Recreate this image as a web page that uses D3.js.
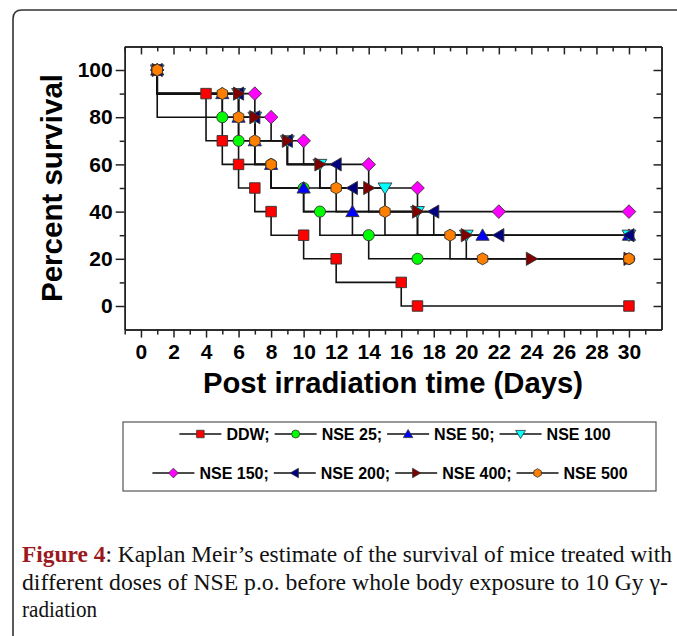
<!DOCTYPE html>
<html><head><meta charset="utf-8">
<script src="https://cdn.jsdelivr.net/npm/d3@7"></script>
<style>body{margin:0;background:#fff} svg{display:block}</style>
</head><body>
<svg id="c" width="677" height="636"></svg>
<script>
// ---------------- data ----------------
const seriesNames  = ["DDW","NSE 25","NSE 50","NSE 100","NSE 150","NSE 200","NSE 400","NSE 500"];
const legendLabels = ["DDW;","NSE 25;","NSE 50;","NSE 100","NSE 150;","NSE 200;","NSE 400;","NSE 500"];
const seriesColors = ["#ff0000","#00ff00","#0000ff","#00ffff","#ff00ff","#000080","#800000","#ff8000"];
const seriesShapes = ["square","circle","triangleUp","triangleDown","diamond","triangleLeft","triangleRight","hexagon"];

const ddwDays    = [1,4,5,6,7,8,10,12,16,17,30];
const ddwSurv    = [100,90,70,60,50,40,30,20,10,0,0];
const nse25Days  = [1,5,6,8,10,11,14,17,30];
const nse25Surv  = [100,80,70,60,50,40,30,20,20];
const nse50Days  = [1,5,6,7,8,10,13,21,30];
const nse50Surv  = [100,90,80,70,60,50,40,30,30];
const nse100Days = [1,6,7,9,11,15,17,20,30];
const nse100Surv = [100,90,80,70,60,50,40,30,30];
const nse150Days = [1,7,8,10,14,17,22,30];
const nse150Surv = [100,90,80,70,60,50,40,40];
const nse200Days = [1,6,7,9,12,13,18,22,30];
const nse200Surv = [100,90,80,70,60,50,40,30,30];
const nse400Days = [1,6,7,9,11,14,17,20,24,30];
const nse400Surv = [100,90,80,70,60,50,40,30,20,20];
const nse500Days = [1,5,6,7,8,12,15,19,21,30];
const nse500Surv = [100,90,80,70,60,50,40,30,20,20];

const xMajorTicks = [0,2,4,6,8,10,12,14,16,18,20,22,24,26,28,30];
const xMinorTicks = [-1,1,3,5,7,9,11,13,15,17,19,21,23,25,27,29,31];
const yMajorTicks = [0,20,40,60,80,100];
const yMinorTicks = [10,30,50,70,90];

const xTitle = "Post irradiation time (Days)";
const yTitle = "Percent survival";
const captionBold = "Figure 4";
const captionLines = [": Kaplan Meir\u2019s estimate of the survival of mice treated with",
  "different doses of NSE p.o. before whole body exposure to 10 Gy \u03b3-",
  "radiation"];

const allDays = [ddwDays,nse25Days,nse50Days,nse100Days,nse150Days,nse200Days,nse400Days,nse500Days];
const allSurv = [ddwSurv,nse25Surv,nse50Surv,nse100Surv,nse150Surv,nse200Surv,nse400Surv,nse500Surv];
const series = seriesNames.map((n,i)=>({name:n, label:legendLabels[i], color:seriesColors[i], shape:seriesShapes[i],
  pts: allDays[i].map((d,j)=>({day:d, surv:allSurv[i][j]}))}));

// ---------------- layout ----------------
const svg = d3.select("#c");
const FONT = "'Liberation Sans', Arial, Helvetica, sans-serif";
const SERIF = "'Liberation Serif', 'Times New Roman', serif";
const L = 124.7, R = 661.5, T = 46.4, B = 329.6;
const x = d3.scaleLinear().domain([-1,32]).range([L,R]);
const y = d3.scaleLinear().domain([-10,110]).range([B,T]);

// outer frame
svg.append("path").attr("d","M13,640 V19 Q13,10 22,10 H690")
  .attr("fill","none").attr("stroke","#333").attr("stroke-width",1.6);

function shapePath(type, s){
  const h = s/2;
  switch(type){
    case "square": return `M${-h},${-h}H${h}V${h}H${-h}Z`;
    case "circle": { const r=h*1.06; return `M${r},0A${r},${r} 0 1,1 ${-r},0A${r},${r} 0 1,1 ${r},0Z`; }
    case "diamond": { const d=h*1.3; return `M0,${-d}L${d},0L0,${d}L${-d},0Z`; }
    case "triangleUp": { const a=h*1.2; return `M0,${-a}L${a*1.05},${a*0.8}L${-a*1.05},${a*0.8}Z`; }
    case "triangleDown": { const a=h*1.2; return `M0,${a}L${a*1.1},${-a*0.8}L${-a*1.1},${-a*0.8}Z`; }
    case "triangleLeft": { const a=h*1.2; return `M${-a},0L${a*0.8},${-a*1.05}L${a*0.8},${a*1.05}Z`; }
    case "triangleRight": { const a=h*1.2; return `M${a},0L${-a*0.8},${-a*1.05}L${-a*0.8},${a*1.05}Z`; }
    case "hexagon": { const r=h*1.15; let p=[]; for(let k=0;k<6;k++){const an=-Math.PI/2+k*Math.PI/3; p.push([r*Math.cos(an), r*Math.sin(an)]);} return "M"+p.map(q=>q[0].toFixed(2)+","+q[1].toFixed(2)).join("L")+"Z"; }
  }
}

// axes
const axG = svg.append("g");
function styleAxis(g){
  g.selectAll("path.domain").attr("stroke","#222").attr("stroke-width",1.5);
  g.selectAll(".tick line").attr("stroke","#222").attr("stroke-width",1.5);
  g.selectAll("text").attr("font-family",FONT).attr("font-weight","bold").attr("font-size",21).attr("fill","#000");
}
const bottomMaj = axG.append("g").attr("transform",`translate(0,${B})`)
  .call(d3.axisBottom(x).tickValues(xMajorTicks).tickSize(8).tickSizeOuter(0).tickPadding(6).tickFormat(d3.format("d")));
styleAxis(bottomMaj);
const bottomMin = axG.append("g").attr("transform",`translate(0,${B})`)
  .call(d3.axisBottom(x).tickValues(xMinorTicks).tickSize(5).tickSizeOuter(0).tickFormat(""));
styleAxis(bottomMin);
const topMaj = axG.append("g").attr("transform",`translate(0,${T})`)
  .call(d3.axisTop(x).tickValues(xMajorTicks).tickSize(-8).tickSizeOuter(0).tickFormat(""));
styleAxis(topMaj);
const topMin = axG.append("g").attr("transform",`translate(0,${T})`)
  .call(d3.axisTop(x).tickValues(xMinorTicks).tickSize(-5).tickSizeOuter(0).tickFormat(""));
styleAxis(topMin);
const leftMaj = axG.append("g").attr("transform",`translate(${L},0)`)
  .call(d3.axisLeft(y).tickValues(yMajorTicks).tickSize(9).tickSizeOuter(0).tickPadding(3).tickFormat(d3.format("d")));
styleAxis(leftMaj);
const leftMin = axG.append("g").attr("transform",`translate(${L},0)`)
  .call(d3.axisLeft(y).tickValues(yMinorTicks).tickSize(5).tickSizeOuter(0).tickFormat(""));
styleAxis(leftMin);
const rightMaj = axG.append("g").attr("transform",`translate(${R},0)`)
  .call(d3.axisRight(y).tickValues(yMajorTicks).tickSize(-8).tickSizeOuter(0).tickFormat(""));
styleAxis(rightMaj);
const rightMin = axG.append("g").attr("transform",`translate(${R},0)`)
  .call(d3.axisRight(y).tickValues(yMinorTicks).tickSize(-5).tickSizeOuter(0).tickFormat(""));
styleAxis(rightMin);

// axis titles
svg.append("text").attr("x",(x(0)+x(30))/2 + 8).attr("y",393).attr("text-anchor","middle")
  .attr("font-family",FONT).attr("font-weight","bold").attr("font-size",29)
  .attr("textLength",380).attr("lengthAdjust","spacingAndGlyphs").text(xTitle);
svg.append("text").attr("transform",`translate(62,${(y(0)+y(100))/2 + 0}) rotate(-90)`).attr("text-anchor","middle")
  .attr("font-family",FONT).attr("font-weight","bold").attr("font-size",29)
  .attr("textLength",228).attr("lengthAdjust","spacingAndGlyphs").text(yTitle);

// KM step lines
const line = d3.line().x(d=>x(d.day)).y(d=>y(d.surv)).curve(d3.curveStepBefore);
const plot = svg.append("g");
series.forEach(s=>{
  plot.append("path").attr("d",line(s.pts)).attr("fill","none").attr("stroke","#111").attr("stroke-width",1.6);
});
series.forEach(s=>{
  plot.append("g").selectAll("path").data(s.pts).join("path")
    .attr("transform",d=>`translate(${x(d.day)},${y(d.surv)})`)
    .attr("d",shapePath(s.shape,10.5))
    .attr("fill",s.color).attr("stroke","#333").attr("stroke-width",0.9);
});

// legend
const lg = svg.append("g");
lg.append("rect").attr("x",123).attr("y",422).attr("width",533).attr("height",69)
  .attr("fill","none").attr("stroke","#555").attr("stroke-width",1.2);
const rows = [series.slice(0,4), series.slice(4,8)];
const rowY = [434, 473];
const rowCx = [395, 390];
rows.forEach((items,ri)=>{
  const g = lg.append("g");
  let cx = 0;
  items.forEach(s=>{
    const it = g.append("g").attr("transform",`translate(${cx},0)`);
    it.append("line").attr("x1",0).attr("x2",42).attr("y1",0).attr("y2",0).attr("stroke","#111").attr("stroke-width",1.5);
    it.append("path").attr("transform","translate(21,0)").attr("d",shapePath(s.shape,7.5))
      .attr("fill",s.color).attr("stroke","#333").attr("stroke-width",0.8);
    const t = it.append("text").attr("x",47).attr("y",5.8).attr("font-family",FONT).attr("font-weight","bold")
      .attr("font-size",16).text(s.label);
    cx += 47 + t.node().getComputedTextLength() + 5;
  });
  const w = cx - 5;
  g.attr("transform",`translate(${rowCx[ri]-w/2},${rowY[ri]})`);
});

// caption
const cap = svg.append("g").attr("font-family",SERIF).attr("font-size",22.5).attr("fill","#111");
const l1 = cap.append("text").attr("x",22).attr("y",562).attr("textLength",650).attr("lengthAdjust","spacingAndGlyphs");
l1.append("tspan").attr("font-weight","bold").attr("fill","#9a1a1e").text(captionBold);
l1.append("tspan").text(captionLines[0]);
cap.append("text").attr("x",22).attr("y",589.5).attr("textLength",646).attr("lengthAdjust","spacingAndGlyphs").text(captionLines[1]);
cap.append("text").attr("x",22).attr("y",617).attr("textLength",75).attr("lengthAdjust","spacingAndGlyphs").text(captionLines[2]);
</script>
</body></html>
